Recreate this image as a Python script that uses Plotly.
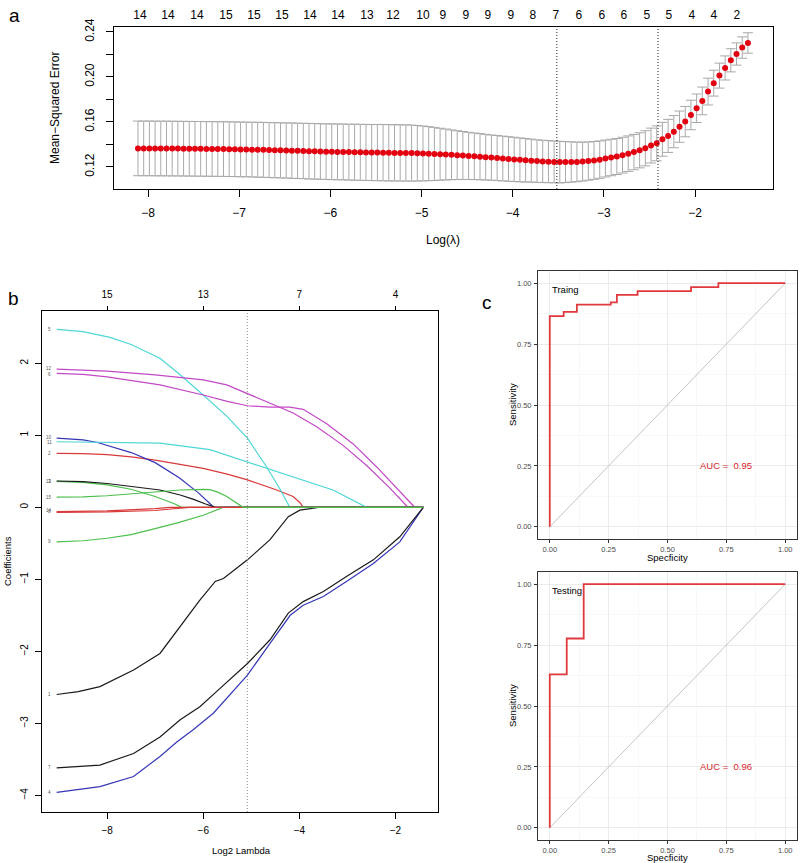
import numpy as np
import plotly.graph_objects as go

W, H = 800, 863
FONT = "Liberation Sans, Arial, sans-serif"

# ---------------- Panel a : cross-validation curve ----------------
log_lambda = np.round(np.linspace(-8.11, -1.42, 108), 4)
cv_mse = [
    0.1365, 0.1365, 0.1365, 0.1364, 0.1364, 0.1364, 0.1363, 0.1363, 0.1362, 0.1362, 0.1361, 0.1361, 0.1360, 0.1360, 0.1359, 0.1359,
    0.1358, 0.1357, 0.1356, 0.1355, 0.1354, 0.1353, 0.1352, 0.1350, 0.1349, 0.1348, 0.1346, 0.1345, 0.1343, 0.1342, 0.1340, 0.1339,
    0.1337, 0.1336, 0.1335, 0.1334, 0.1333, 0.1332, 0.1331, 0.1330, 0.1329, 0.1328, 0.1328, 0.1327, 0.1326, 0.1325, 0.1325, 0.1324,
    0.1323, 0.1322, 0.1320, 0.1318, 0.1316, 0.1313, 0.1311, 0.1308,
    0.1305, 0.1302, 0.1298, 0.1295, 0.1291, 0.1287, 0.1283, 0.1279,
    0.1275, 0.1271, 0.1267, 0.1263, 0.1259, 0.1256, 0.1252, 0.1249, 0.1247, 0.1245,
    0.1243, 0.1243, 0.1244, 0.1245, 0.1248, 0.1252, 0.1258, 0.1265,
    0.1275, 0.1284, 0.1293, 0.1305,
    0.1318, 0.1332, 0.1348, 0.1366, 0.1390, 0.1410,
    0.1446, 0.1476, 0.1514, 0.1558, 0.1603, 0.1662, 0.1722, 0.1787,
    0.1870, 0.1945, 0.2012, 0.2080, 0.2148, 0.2204, 0.2261, 0.2302,
]
cv_se = (
    [0.0243] * 21
    + [0.0244, 0.0244, 0.0244, 0.0245, 0.0245, 0.0245, 0.0246, 0.0246, 0.0246, 0.0247, 0.0247, 0.0247, 0.0247, 0.0248,
       0.0248, 0.0248, 0.0248, 0.0249, 0.0249, 0.0249, 0.0249, 0.0250, 0.0250, 0.0250, 0.0250, 0.0250, 0.0250]
    + [0.0249, 0.0247, 0.0244, 0.0240, 0.0236, 0.0231, 0.0226, 0.0221]
    + [0.0217, 0.0213, 0.0210, 0.0207, 0.0205, 0.0203, 0.0201, 0.0200, 0.0199, 0.0198]
    + [0.0197, 0.0195, 0.0193, 0.0191, 0.0189, 0.0188, 0.0187, 0.0186, 0.0185]
    + [0.0182, 0.0179, 0.0176, 0.0173, 0.0170, 0.0168, 0.0166, 0.0164]
    + [0.0162, 0.0160, 0.0159, 0.0158, 0.0157, 0.0156, 0.0156, 0.0155, 0.0155]
    + [0.0151, 0.0147, 0.0143, 0.0139, 0.0135, 0.0131, 0.0127, 0.0123, 0.0119, 0.0115, 0.0111, 0.0107, 0.0103,
       0.0099, 0.0095, 0.0091]
)
log_lambda_min = -3.516
log_lambda_1se = -2.406
a_top_pos = [-8.088, -7.781, -7.463, -7.145, -6.838, -6.531, -6.224, -5.917, -5.599, -5.314, -4.985, -4.765,
             -4.513, -4.272, -4.020, -3.778, -3.526, -3.274, -3.022, -2.781, -2.529, -2.287, -2.035, -1.794, -1.542]
a_top_labels = ["14", "14", "14", "15", "15", "15", "14", "14", "13", "12", "10", "9", "9", "9", "9", "8", "7",
                "6", "6", "6", "5", "5", "4", "4", "2"]
a_xticks = [-8, -7, -6, -5, -4, -3, -2]
a_yticks = [0.12, 0.14, 0.16, 0.18, 0.20, 0.22, 0.24]
a_yticklabels = ["0.12", "", "0.16", "", "0.20", "", "0.24"]

# ---------------- Panel b : coefficient paths ----------------
coef1_x = [-9.05, -8.6, -8.15, -7.45, -6.90, -6.48, -6.07, -5.75, -5.58, -5.08, -4.61, -4.23, -3.99, -3.57, -1.42]
coef1_y = [-2.60, -2.56, -2.49, -2.26, -2.03, -1.66, -1.29, -1.03, -0.99, -0.73, -0.45, -0.13, -0.04, 0, 0]
coef2_x = [-9.05, -8.5, -8.0, -7.5, -7.0, -6.5, -6.0, -5.5, -5.08, -4.47, -4.13, -3.98, -3.92, -1.42]
coef2_y = [0.75, 0.745, 0.73, 0.70, 0.655, 0.60, 0.54, 0.46, 0.38, 0.24, 0.15, 0.06, 0, 0]
coef3_x = [-9.05, -8.5, -8.0, -7.5, -7.0, -6.6, -6.45, -1.42]
coef3_y = [0.36, 0.345, 0.31, 0.25, 0.15, 0.05, 0, 0]
coef4_x = [-9.05, -8.15, -7.45, -6.90, -6.55, -6.21, -5.79, -5.08, -4.61, -4.19, -3.92, -3.50, -3.02, -2.46, -1.91, -1.42]
coef4_y = [-3.96, -3.88, -3.74, -3.46, -3.26, -3.09, -2.86, -2.33, -1.89, -1.50, -1.36, -1.24, -1.03, -0.78, -0.48, 0]
coef5_x = [-9.05, -8.5, -7.94, -7.5, -6.9, -6.5, -6.0, -5.5, -5.08, -4.68, -4.4, -4.2, -1.42]
coef5_y = [2.47, 2.44, 2.36, 2.26, 2.07, 1.85, 1.56, 1.26, 0.96, 0.56, 0.25, 0, 0]
coef6_x = [-9.05, -8.5, -8.0, -7.5, -6.9, -6.0, -5.5, -5.08, -4.61, -4.2, -3.92, -3.43, -2.88, -2.39, -1.91, -1.60, -1.42]
coef6_y = [1.86, 1.845, 1.81, 1.76, 1.70, 1.56, 1.47, 1.41, 1.39, 1.39, 1.36, 1.16, 0.88, 0.56, 0.22, 0, 0]
coef7_x = [-9.05, -8.15, -7.45, -6.90, -6.48, -6.07, -5.69, -5.08, -4.61, -4.23, -3.92, -3.50, -3.02, -2.46, -1.91, -1.42]
coef7_y = [-3.62, -3.58, -3.42, -3.19, -2.95, -2.77, -2.54, -2.17, -1.84, -1.47, -1.31, -1.17, -0.96, -0.73, -0.41, 0]
coef8_x = [-9.05, -8.0, -7.0, -6.7, -1.42]
coef8_y = [-0.06, -0.05, -0.02, 0, 0]
coef9_x = [-9.05, -8.5, -8.0, -7.5, -6.9, -6.5, -6.0, -5.58, -1.42]
coef9_y = [-0.48, -0.465, -0.43, -0.38, -0.28, -0.21, -0.11, 0, 0]
coef10_x = [-9.05, -8.5, -8.2, -7.5, -7.0, -6.5, -6.1, -5.78, -1.42]
coef10_y = [0.96, 0.935, 0.90, 0.76, 0.62, 0.41, 0.20, 0, 0]
coef11_x = [-9.05, -8.0, -6.9, -5.86, -5.5, -5.08, -4.6, -4.13, -3.3, -2.6, -1.42]
coef11_y = [0.91, 0.905, 0.89, 0.80, 0.72, 0.63, 0.52, 0.42, 0.24, 0, 0]
coef12_x = [-9.05, -8.0, -7.0, -6.0, -5.51, -5.08, -4.61, -4.13, -3.64, -3.09, -2.60, -2.12, -1.74, -1.42]
coef12_y = [1.92, 1.89, 1.84, 1.77, 1.70, 1.58, 1.44, 1.31, 1.12, 0.86, 0.58, 0.27, 0, 0]
coef13_x = [-9.05, -8.5, -8.0, -7.5, -6.9, -6.48, -6.2, -5.95, -5.75, -1.42]
coef13_y = [0.365, 0.355, 0.33, 0.29, 0.24, 0.17, 0.11, 0.045, 0, 0]
coef14_x = [-9.05, -8.0, -7.0, -6.6, -6.3, -1.42]
coef14_y = [-0.07, -0.065, -0.045, -0.025, 0, 0]
coef15_x = [-9.05, -8.5, -8.0, -7.5, -7.0, -6.48, -6.0, -5.86, -5.7, -5.51, -5.17, -1.42]
coef15_y = [0.14, 0.145, 0.16, 0.185, 0.215, 0.24, 0.25, 0.245, 0.21, 0.15, 0, 0]

coef_paths_x = [coef1_x, coef2_x, coef3_x, coef4_x, coef5_x, coef6_x, coef7_x, coef8_x,
                coef9_x, coef10_x, coef11_x, coef12_x, coef13_x, coef14_x, coef15_x]
coef_paths_y = [coef1_y, coef2_y, coef3_y, coef4_y, coef5_y, coef6_y, coef7_y, coef8_y,
                coef9_y, coef10_y, coef11_y, coef12_y, coef13_y, coef14_y, coef15_y]
var_names = [str(i) for i in range(1, 16)]
var_label_y = [-2.60, 0.75, 0.36, -3.96, 2.47, 1.85, -3.62, -0.06, -0.48, 0.97, 0.90, 1.93, 0.365, -0.05, 0.14]
# R default palette 1:6 recycled (black, red, green3, blue, cyan, magenta)
palette6 = ["#1a1a1a", "#d93a3a", "#4cbf4c", "#3535b8", "#4fd6d6", "#c348c6"]
b_xticks = [-8, -6, -4, -2]
b_top_labels = ["15", "13", "7", "4"]
b_yticks = [-4, -3, -2, -1, 0, 1, 2]
log2_lambda_cut = -5.083

# ---------------- Panel c : ROC curves ----------------
train_fpr = [0, 0, 0.059, 0.059, 0.115, 0.115, 0.259, 0.259, 0.285, 0.285, 0.373, 0.373, 0.60, 0.60, 0.716, 0.716, 1.0]
train_tpr = [0, 0.865, 0.865, 0.882, 0.882, 0.912, 0.912, 0.921, 0.921, 0.952, 0.952, 0.967, 0.967, 0.984, 0.984, 1.0, 1.0]
test_fpr = [0, 0, 0.072, 0.072, 0.144, 0.144, 1.0]
test_tpr = [0, 0.630, 0.630, 0.777, 0.777, 1.0, 1.0]
chance_line = [0, 1]
auc_train = 0.95
auc_test = 0.96
roc_ticks = [0, 0.25, 0.5, 0.75, 1.0]


def px(xp):
    return xp / W


def py(yp):
    return 1 - yp / H


fig = go.Figure()

# ---- panel a traces
fig.add_trace(go.Scatter(
    x=log_lambda, y=cv_mse, mode="markers", xaxis="x", yaxis="y",
    marker=dict(color="#e3000f", size=6, line=dict(width=0)),
    error_y=dict(type="data", array=cv_se, color="#a9a9a9", thickness=1, width=5),
    showlegend=False, hoverinfo="skip"))
# empty trace so the top (count) axis of panel a is drawn
fig.add_trace(go.Scatter(x=a_top_pos, y=[None] * len(a_top_pos), mode="markers", xaxis="x2", yaxis="y",
                         showlegend=False, hoverinfo="skip"))

# ---- panel b traces
for k in range(15):
    fig.add_trace(go.Scatter(
        x=coef_paths_x[k], y=coef_paths_y[k], mode="lines", xaxis="x3", yaxis="y3",
        line=dict(color=palette6[k % 6], width=1.2),
        showlegend=False, hoverinfo="skip"))
fig.add_trace(go.Scatter(x=b_xticks, y=[None] * len(b_xticks), mode="markers", xaxis="x4", yaxis="y3",
                         showlegend=False, hoverinfo="skip"))

# ---- panel c traces
for xa, ya, fpr, tpr in [("x5", "y5", train_fpr, train_tpr), ("x6", "y6", test_fpr, test_tpr)]:
    fig.add_trace(go.Scatter(x=chance_line, y=chance_line, mode="lines", xaxis=xa, yaxis=ya,
                             line=dict(color="#bdbdbd", width=0.9), showlegend=False, hoverinfo="skip"))
    fig.add_trace(go.Scatter(x=fpr, y=tpr, mode="lines", xaxis=xa, yaxis=ya,
                             line=dict(color="#e0393e", width=1.8), showlegend=False, hoverinfo="skip"))

shapes = []
for xv in [log_lambda_min, log_lambda_1se]:
    shapes.append(dict(type="line", xref="x", yref="y domain", x0=xv, x1=xv, y0=0, y1=1,
                       line=dict(color="#222222", width=1, dash="1px,2px")))
shapes.append(dict(type="line", xref="x3", yref="y3 domain", x0=log2_lambda_cut, x1=log2_lambda_cut, y0=0, y1=1,
                   line=dict(color="#8a8a8a", width=1, dash="1px,2px")))

annotations = []


def ann(text, x, y, size, rot=0, color="black", xanchor="center", xref="paper", yref="paper"):
    annotations.append(dict(text=text, x=x, y=y, xref=xref, yref=yref, showarrow=False, textangle=rot,
                            xanchor=xanchor, yanchor="middle", font=dict(family=FONT, size=size, color=color)))


ann("a", px(14), py(15), 19)
ann("b", px(13), py(299), 19)
ann("c", px(487), py(302), 19)
ann("Mean\u2212Squared Error", px(55), py(108), 12, rot=-90)
ann("Log(\u03bb)", px(443), py(240), 12)
ann("Coefficients", px(7), py(561), 9.5, rot=-90)
ann("Log2 Lambda", px(241), py(850), 9.5)
for yc in [405, 706]:
    ann("Sensitivity", px(512), py(yc), 9.5, rot=-90)
for yc in [557.5, 857.5]:
    ann("Specficity", px(667), py(yc), 9.5)
ann("Traing", 0, 0.975, 9.5, xanchor="left", xref="x5", yref="y5")
ann("Testing", 0, 0.975, 9.5, xanchor="left", xref="x6", yref="y6")
ann("AUC =  %.2f" % auc_train, 0.75, 0.25, 9.5, color="#d6262c", xref="x5", yref="y5")
ann("AUC =  %.2f" % auc_test, 0.75, 0.25, 9.5, color="#d6262c", xref="x6", yref="y6")
for k in range(15):
    ann(var_names[k], -9.2, var_label_y[k], 4.5, color="#555555", xref="x3", yref="y3")

base_r = dict(showgrid=False, zeroline=False, showline=True, linecolor="black", linewidth=1, mirror=True,
              ticks="outside", tickcolor="black", tickwidth=1, automargin=False)

layout = dict(
    template="none",
    width=W, height=H, margin=dict(l=0, r=0, t=0, b=0, pad=0), autosize=False,
    paper_bgcolor="white", plot_bgcolor="white",
    font=dict(family=FONT, color="black"),
    shapes=shapes, annotations=annotations, showlegend=False,
    # panel a
    xaxis=dict(base_r, domain=[px(114), px(773)], range=[-8.373, -1.145], anchor="y",
               tickvals=a_xticks, ticklen=7, tickfont=dict(size=12), ticklabelstandoff=6),
    yaxis=dict(base_r, domain=[py(189), py(27)], range=[0.1004, 0.2444], anchor="x",
               tickvals=a_yticks, ticktext=a_yticklabels, tickangle=-90, ticklen=7,
               tickfont=dict(size=12), ticklabelstandoff=7),
    xaxis2=dict(overlaying="x", anchor="y", side="top", range=[-8.373, -1.145], showgrid=False, zeroline=False,
                showline=False, ticks="", tickvals=a_top_pos, ticktext=a_top_labels, automargin=False,
                tickfont=dict(size=12), ticklabelstandoff=5),
    # panel b
    xaxis3=dict(base_r, domain=[px(42), px(438)], range=[-9.355, -1.115], anchor="y3",
                tickvals=b_xticks, ticklen=6, tickfont=dict(size=10), ticklabelstandoff=3),
    yaxis3=dict(base_r, domain=[py(812), py(311)], range=[-4.232, 2.726], anchor="x3",
                tickvals=b_yticks, tickangle=-90, ticklen=6, tickfont=dict(size=10), ticklabelstandoff=3),
    xaxis4=dict(overlaying="x3", anchor="y3", side="top", range=[-9.355, -1.115], showgrid=False, zeroline=False,
                showline=False, ticks="outside", ticklen=4, tickcolor="black", tickvals=b_xticks, automargin=False,
                ticktext=b_top_labels, tickfont=dict(size=10), ticklabelstandoff=4),
)

roc_x = dict(range=[-0.05, 1.05], tickvals=roc_ticks, tickformat=".2f", showline=True, mirror=True,
             linecolor="#333333", linewidth=1, ticks="outside", ticklen=3, tickcolor="#333333",
             tickfont=dict(size=7.5, color="#4d4d4d"), showgrid=True, gridcolor="#ebebeb", gridwidth=1,
             zeroline=False, automargin=False,
             minor=dict(dtick=0.125, tick0=0, showgrid=True, gridcolor="#f3f3f3", gridwidth=0.6),
             ticklabelstandoff=0)
layout["xaxis5"] = dict(roc_x, domain=[px(538), px(797)], anchor="y5")
layout["yaxis5"] = dict(roc_x, domain=[py(539), py(271)], anchor="x5", ticklabelstandoff=1)
layout["xaxis6"] = dict(roc_x, domain=[px(538), px(797)], anchor="y6")
layout["yaxis6"] = dict(roc_x, domain=[py(840), py(572)], anchor="x6", ticklabelstandoff=1)

fig.update_layout(layout)
fig.write_html("out.html", config={"displayModeBar": False, "staticPlot": True},
               post_script="document.body.style.margin='0px';document.body.style.overflow='hidden';")
